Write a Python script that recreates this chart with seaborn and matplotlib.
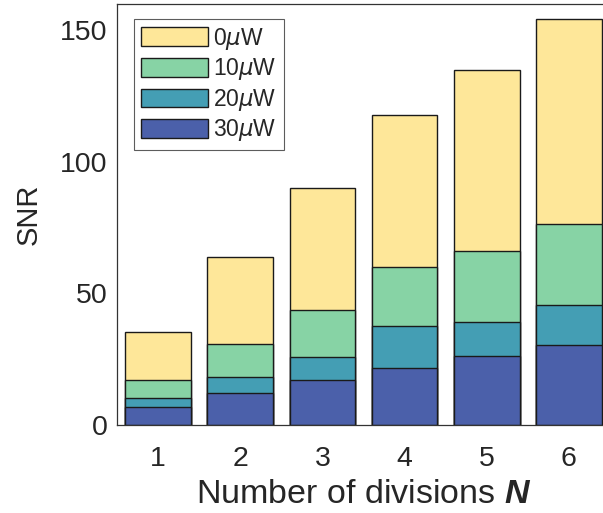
import numpy as np
import pandas as pd
import matplotlib
matplotlib.use("Agg")
import matplotlib.pyplot as plt
import seaborn as sns
from matplotlib.patches import Patch

divisions = [1, 2, 3, 4, 5, 6]
snr_0uW = [35.2, 63.8, 90.0, 118.0, 134.8, 154.2]
snr_10uW = [17.1, 30.9, 43.6, 59.9, 66.2, 76.5]
snr_20uW = [10.4, 18.4, 25.7, 37.6, 39.2, 45.7]
snr_30uW = [7.0, 12.2, 17.1, 21.8, 26.2, 30.5]
labels = [r"0$\mu$W", r"10$\mu$W", r"20$\mu$W", r"30$\mu$W"]
colors = ["#FEE799", "#87D3A5", "#449EB4", "#4B60AA"]

sns.set_style("white")
plt.rcParams["font.family"] = ["Liberation Sans", "DejaVu Sans"]
plt.rcParams["mathtext.fontset"] = "custom"
plt.rcParams["mathtext.bf"] = "Liberation Sans:bold:italic"
plt.rcParams["mathtext.rm"] = "Liberation Sans"

fig = plt.figure(figsize=(6.03, 5.13), dpi=100)
ax = fig.add_axes([0.194, 0.1715, 0.8176, 0.8207])

series = [snr_0uW, snr_10uW, snr_20uW, snr_30uW]
for vals, col in zip(series, colors):
    df = pd.DataFrame({"N": divisions, "SNR": vals})
    sns.barplot(data=df, x="N", y="SNR", native_scale=True, color=col,
                saturation=1, width=0.8, edgecolor="#1a1a1a", linewidth=1.0, ax=ax)

ax.set_xlim(0.5, 6.5)
ax.set_ylim(0, 160)
ax.set_xticks(divisions)
ax.set_yticks([0, 50, 100, 150])
ax.tick_params(direction="in", length=4, labelsize=20.5, width=0.8, color="#333333", pad=7)
ax.tick_params(axis="x", pad=15)
for s in ["left", "top", "bottom"]:
    ax.spines[s].set_color("#333333")
    ax.spines[s].set_linewidth(0.9)
ax.spines["right"].set_visible(False)
ax.set_ylabel("SNR", fontsize=21, labelpad=12)
ax.set_xlabel(r"Number of divisions $\mathbf{N}$", fontsize=24.5, labelpad=5)

handles = [Patch(facecolor=c, edgecolor="#1a1a1a", linewidth=1.0) for c in colors]
leg = ax.legend(handles, labels, loc="upper left", bbox_to_anchor=(0.035, 0.965),
                fontsize=16.5, frameon=True, fancybox=False, edgecolor="#333333",
                handlelength=2.9, handleheight=0.87, handletextpad=0.25,
                labelspacing=0.2, borderpad=0.3, borderaxespad=0)
leg.get_frame().set_linewidth(0.8)

fig.savefig("out.png", dpi=100)
